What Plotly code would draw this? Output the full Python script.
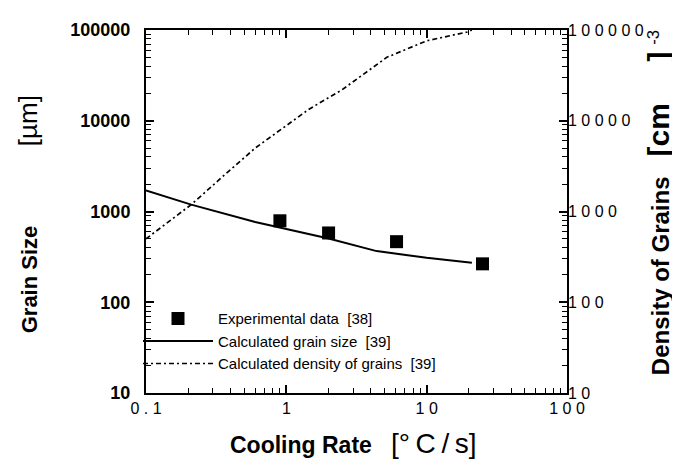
import plotly.graph_objects as go

# Experimental data [38]
exp_rate = [0.9, 2.0, 6.1, 25]
exp_size = [790, 580, 465, 265]

# Calculated grain size [39]
calc_rate = [0.1, 0.21, 0.6, 1.45, 2.0, 4.4, 6.1, 10, 21]
calc_size = [1710, 1190, 765, 556, 504, 366, 340, 309, 273]

# Calculated density of grains [39]
dens_rate = [0.1, 0.21, 0.37, 0.6, 1.45, 2.5, 5.2, 10, 19.4, 21]
dens_val = [500, 1190, 2600, 5000, 13400, 22000, 50000, 76000, 95000, 100000]

x_tickvals = [0.1, 1, 10, 100]
x_ticktext = ["0 . 1", "1", "1 0", "1 0 0"]
y_tickvals = [10, 100, 1000, 10000, 100000]
y_ticktext = ["10", "100", "1000", "10000", "100000"]
y2_ticktext = ["1 0", "1 0 0", "1 0 0 0", "1 0 0 0 0", "1 0 0 0 0 0"]

# minor tick positions (2..9 in each decade)
x_minor = [m * 10.0 ** e for e in (-1, 0, 1) for m in range(2, 10)]
y_minor = [m * 10.0 ** e for e in (1, 2, 3, 4) for m in range(2, 10)]

FONT = "Liberation Sans, Arial, Helvetica, sans-serif"

fig = go.Figure()
fig.add_trace(go.Scatter(
    x=exp_rate, y=exp_size, mode="markers", name="Experimental data  [38]",
    marker=dict(symbol="square", size=13, color="black"),
))
fig.add_trace(go.Scatter(
    x=calc_rate, y=calc_size, mode="lines", name="Calculated grain size  [39]",
    line=dict(color="black", width=2),
))
fig.add_trace(go.Scatter(
    x=dens_rate, y=dens_val, mode="lines", name="Calculated density of grains  [39]",
    line=dict(color="black", width=1.7, dash="5px,3px,2px,3px"), yaxis="y2",
))

axis_common = dict(
    type="log", showline=True, linewidth=2, linecolor="black", showgrid=False,
    ticks="inside", ticklen=8, tickwidth=1.5, tickcolor="black", zeroline=False,
)

fig.update_layout(
    width=680, height=462,
    margin=dict(l=138, r=121, t=13, b=77),
    plot_bgcolor="white", paper_bgcolor="white",
    font=dict(family=FONT, color="black"),
    xaxis=dict(axis_common, range=[-1, 2], mirror="ticks",
               tickvals=x_tickvals, ticktext=x_ticktext,
               minor=dict(tickvals=x_minor, ticks="inside", ticklen=5, tickwidth=1.2,
                          tickcolor="black", showgrid=False),
               tickfont=dict(size=16), ticklabelstandoff=0),
    yaxis=dict(axis_common, range=[1, 5], mirror="ticks",
               tickvals=y_tickvals, ticktext=y_ticktext,
               minor=dict(tickvals=y_minor, ticks="inside", ticklen=5, tickwidth=1.2,
                          tickcolor="black", showgrid=False),
               tickfont=dict(size=18, family="Liberation Sans, Arial", weight="bold"),
               ticklabelstandoff=10),
    yaxis2=dict(type="log", range=[1, 5], overlaying="y", side="right",
                showline=False, showgrid=False, ticks="", zeroline=False,
                tickvals=y_tickvals, ticktext=y2_ticktext,
                tickfont=dict(size=16), ticklabelstandoff=0),
    showlegend=True,
    legend=dict(x=-0.019, y=0.25, xanchor="left", yanchor="top",
                bgcolor="rgba(0,0,0,0)", itemwidth=70,
                font=dict(family=FONT, size=15), tracegroupgap=0),
)

nb = "\u00a0"
th = "\u2009"
fig.add_annotation(
    text="<b>Cooling Rate</b>" + nb * 3 + "<span style='font-size:28px'>[" + th.join("°C/s") + "]</span>",
    xref="paper", yref="paper", x=0.195, y=-0.138, xanchor="left", yanchor="middle",
    showarrow=False, font=dict(size=23),
)
fig.add_annotation(
    text="<b>Grain Size</b>" + nb * 13 + "<span style='font-size:26px'>[µm]</span>",
    xref="paper", yref="paper", x=-0.281, y=0.4915, xanchor="center", yanchor="middle",
    textangle=-90, showarrow=False, font=dict(size=22),
)
fig.add_annotation(
    text="<b>Density of Grains</b>" + nb * 3
         + "<span style='font-size:30px'><b>[cm</b>" + nb * 5 + "<b>]</b></span>"
         + nb + "<sup>-3</sup>",
    xref="paper", yref="paper", x=1.218, y=0.525, xanchor="center", yanchor="middle",
    textangle=-90, showarrow=False, font=dict(size=24),
)

fig.write_html("out.html")
